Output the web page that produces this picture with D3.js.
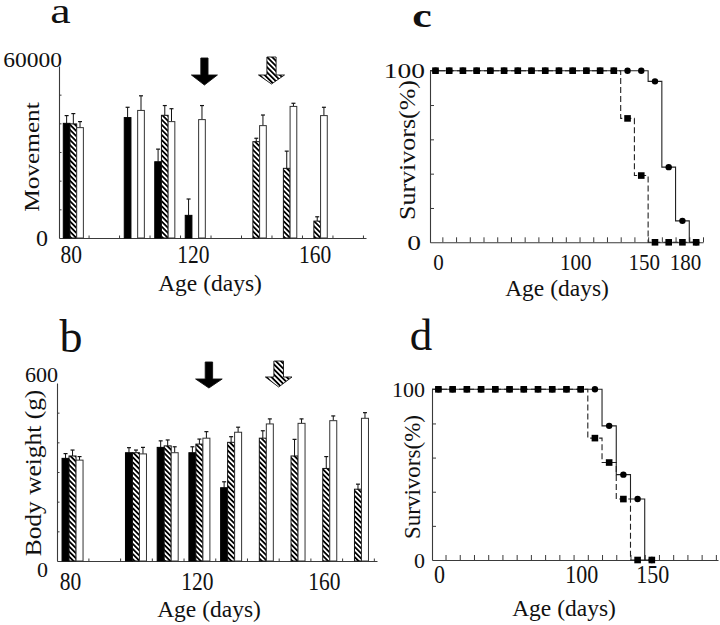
<!DOCTYPE html>
<html><head><meta charset="utf-8">
<script src="https://cdn.jsdelivr.net/npm/d3@7"></script>
<style>
html,body{margin:0;padding:0;background:#fff;}
svg{display:block;font-family:"Liberation Serif","Times New Roman",serif;}
</style>
</head><body>
<svg id="chart" width="720" height="625"></svg>
<script>
// ---------- Panel a: Movement ----------
const moveAges      = [80, 100, 110, 120, 140, 150, 160];
const moveBlack     = [40000, 42000, 26600, 7900, null, null, null];
const moveBlackErr  = [2700, 3600, 4400, 5700, null, null, null];
const moveHatch     = [39800, null, 42800, null, 33600, 24300, 5900];
const moveHatchErr  = [3600, null, 3400, null, 1200, 6000, 1500];
const moveWhite     = [38500, 44500, 40600, 41300, 39200, 45900, 42700];
const moveWhiteErr  = [2100, 5100, 4500, 4900, 3700, 1100, 2900];
const moveYMinor    = [10000, 20000, 30000, 40000, 50000];

// ---------- Panel b: Body weight ----------
const wtAges        = [80, 100, 110, 120, 130, 140, 150, 160, 170];
const wtBlack       = [346, 365, 383, 365, 247, null, null, null, null];
const wtBlackErr    = [16, 17, 22, 20, 20, null, null, null, null];
const wtHatch       = [354, 365, 388, 394, 400, 414, 354, 312, 242];
const wtHatchErr    = [20, 9, 20, 17, 19, 25, 56, 40, 17];
const wtWhite       = [340, 361, 365, 414, 434, 462, 464, 473, 481];
const wtWhiteErr    = [12, 22, 20, 22, 17, 17, 15, 16, 19];
const wtYMinor      = [100, 200, 300, 400, 500];

const ageTickLabels = [80, 120, 160];
const ageMinorTicks = [85, 95, 105, 115, 125, 135, 145, 155, 165, 175];
const arrowAges     = [123, 145];   // black arrow, hatched arrow

// ---------- Panel c: survival ----------
const survCDays   = [0,10,20,30,40,50,60,70,80,90,100,110,120,130,140,150,160,170,180,190];
const survCCircle = [100,100,100,100,100,100,100,100,100,100,100,100,100,100,100,100,93.8,43.8,12.5,0];
const survCSquare = [100,100,100,100,100,100,100,100,100,100,100,100,100,100,72.2,38.9,0,0,0,0];
const survCXLabels = [0, 100, 150, 180];

// ---------- Panel d: survival ----------
const survDDays   = [0,10,20,30,40,50,60,70,80,90,100,110,120,130,140,150];
const survDCircle = [100,100,100,100,100,100,100,100,100,100,100,100,78.6,50,35.7,0];
const survDSquare = [100,100,100,100,100,100,100,100,100,100,100,71.4,57.1,35.7,0,0];
const survDXLabels = [0, 100, 150];

const survYMinor = [20, 40, 60, 80];
const survXMinor = [5,15,25,35,45,55,65,75,85,95,105,115,125,135,145,155,165,175,185,195];

// =================================================
const svg = d3.select('#chart');
svg.append('rect').attr('width',720).attr('height',625).attr('fill','#fff');
const defs = svg.append('defs');
const pat = defs.append('pattern').attr('id','hatch').attr('patternUnits','userSpaceOnUse')
  .attr('width',3.6).attr('height',3.6).attr('patternTransform','rotate(-45)');
pat.append('rect').attr('width',3.6).attr('height',3.6).attr('fill','#fff');
pat.append('rect').attr('width',1.8).attr('height',3.6).attr('fill','#000');

const AX = '#3a3a3a', INK = '#111';

function txt(g, s, x, y, o = {}) {
  const t = g.append('text').text(s)
    .attr('font-size', o.size || 22)
    .attr('text-anchor', o.anchor || 'middle')
    .attr('fill', INK)
    .attr('transform', `translate(${x},${y}) rotate(${o.rot||0}) scale(${o.sx||1},${o.sy||1})`);
  if (o.central) t.attr('dominant-baseline','central');
  if (o.bold) t.attr('font-weight','bold');
  return t;
}

function styleAxis(sel) {
  sel.select('.domain').attr('stroke', AX).attr('stroke-width', 1.1);
  sel.selectAll('.tick line').attr('stroke', AX).attr('stroke-width', 1);
  sel.selectAll('.tick text').remove();
}

function barPanel(cfg) {
  const g = svg.append('g');
  const {x, y, w} = cfg;
  g.append('g').attr('transform', `translate(0,${y.range()[0]})`)
    .call(d3.axisBottom(x).tickValues(ageMinorTicks.filter(t => t < x.domain()[1])).tickSize(-2.5).tickSizeOuter(0).tickFormat(''))
    .call(styleAxis);
  g.append('g').attr('transform', `translate(${x.range()[0]},0)`)
    .call(d3.axisLeft(y).tickValues(cfg.yMinor).tickSize(-2.5).tickSizeOuter(0).tickFormat(''))
    .call(styleAxis);

  const sub = d3.scaleBand().domain([0,1,2]).range([-1.5*w, 1.5*w]);
  cfg.series.forEach((s, si) => {
    const data = cfg.ages.map((a, i) => ({a, v: s.vals[i], e: s.errs[i]})).filter(d => d.v != null);
    const sg = g.append('g');
    sg.selectAll('line.err').data(data.filter(d => d.e)).join('line')
      .attr('x1', d => x(d.a) + sub(si) + w/2).attr('x2', d => x(d.a) + sub(si) + w/2)
      .attr('y1', d => y(d.v)).attr('y2', d => y(d.v + d.e))
      .attr('stroke', INK).attr('stroke-width', 1);
    sg.selectAll('line.cap').data(data.filter(d => d.e)).join('line')
      .attr('x1', d => x(d.a) + sub(si) + w/2 - 2).attr('x2', d => x(d.a) + sub(si) + w/2 + 2)
      .attr('y1', d => y(d.v + d.e)).attr('y2', d => y(d.v + d.e))
      .attr('stroke', INK).attr('stroke-width', 1.2);
    sg.selectAll('rect').data(data).join('rect')
      .attr('x', d => x(d.a) + sub(si)).attr('width', w)
      .attr('y', d => y(d.v)).attr('height', d => y(0) - y(d.v))
      .attr('fill', s.fill).attr('stroke', s.stroke).attr('stroke-width', 1);
  });

  const top = y.range()[1];
  cfg.arrows.forEach((ar, i) => {
    const cx = x(arrowAges[i]);
    const p = `M${cx-ar.sw},${top+ar.t} L${cx+ar.sw},${top+ar.t} L${cx+ar.sw},${top+ar.h} L${cx+ar.hw},${top+ar.h} L${cx},${top+ar.p} L${cx-ar.hw},${top+ar.h} L${cx-ar.sw},${top+ar.h} Z`;
    g.append('path').attr('d', p).attr('fill', ar.fill).attr('stroke', '#111').attr('stroke-width', 0.9);
  });

  ageTickLabels.forEach(v => txt(g, v, x(v) + cfg.xlDx, cfg.xlBase, {size: 21.5, sy: 1.15}));
  cfg.yLabels.forEach(l => txt(g, l.s, l.x, y(l.v) + l.dy, {size: l.size, anchor: 'end', sx: l.sx || 1}));
  txt(g, 'Age (days)', cfg.titleX, cfg.titleY, {size: 23.5});
  txt(g, cfg.yTitle, cfg.yTitleX, cfg.yTitleY, {size: cfg.yTitleSize, rot: -90, sx: cfg.yTitleSx, central: true});
}

const xa = d3.scaleLinear().domain([75.3, 176]).range([59, 366]);
const ya = d3.scaleLinear().domain([0, 60000]).range([238, 66]);
barPanel({
  x: xa, y: ya, w: 6.7, ages: moveAges, yMinor: moveYMinor,
  series: [
    {vals: moveBlack, errs: moveBlackErr, fill: '#000', stroke: '#000'},
    {vals: moveHatch, errs: moveHatchErr, fill: 'url(#hatch)', stroke: '#111'},
    {vals: moveWhite, errs: moveWhiteErr, fill: '#fff', stroke: '#333'}
  ],
  arrows: [
    {sw: 3.6, hw: 13, t: -8, h: 9, p: 19, fill: '#000'},
    {sw: 4.6, hw: 13, t: -9, h: 9, p: 18, fill: 'url(#hatch)'}
  ],
  xlDx: -2, xlBase: 263,
  yLabels: [{s: '60000', v: 60000, x: 62, dy: 1, size: 21, sx: 1.12}, {s: '0', v: 0, x: 48, dy: 8, size: 24}],
  titleX: 210, titleY: 291,
  yTitle: 'Movement', yTitleX: 32, yTitleY: 157, yTitleSize: 22, yTitleSx: 1.15
});

const xb = d3.scaleLinear().domain([75.1, 176]).range([57, 377]);
const yb = d3.scaleLinear().domain([0, 600]).range([561, 383]);
barPanel({
  x: xb, y: yb, w: 7.0, ages: wtAges, yMinor: wtYMinor,
  series: [
    {vals: wtBlack, errs: wtBlackErr, fill: '#000', stroke: '#000'},
    {vals: wtHatch, errs: wtHatchErr, fill: 'url(#hatch)', stroke: '#111'},
    {vals: wtWhite, errs: wtWhiteErr, fill: '#fff', stroke: '#333'}
  ],
  arrows: [
    {sw: 3.7, hw: 13.3, t: -21, h: -4, p: 5, fill: '#000'},
    {sw: 4.8, hw: 13.3, t: -22, h: -6, p: 4, fill: 'url(#hatch)'}
  ],
  xlDx: -2, xlBase: 590,
  yLabels: [{s: '600', v: 600, x: 58, dy: -1, size: 21, sx: 1.05}, {s: '0', v: 0, x: 48, dy: 16, size: 22}],
  titleX: 209, titleY: 617,
  yTitle: 'Body weight (g)', yTitleX: 34, yTitleY: 473, yTitleSize: 22.5, yTitleSx: 1.13
});

function survPanel(cfg) {
  const g = svg.append('g');
  const {x, y} = cfg;
  g.append('g').attr('transform', `translate(0,${y(0)})`)
    .call(d3.axisBottom(x).tickValues(survXMinor.filter(t => t <= x.domain()[1])).tickSize(-5).tickSizeOuter(0).tickFormat(''))
    .call(styleAxis);
  g.append('g').attr('transform', `translate(${x.range()[0]},0)`)
    .call(d3.axisLeft(y).tickValues(survYMinor).tickSize(-4).tickSizeOuter(0).tickFormat(''))
    .call(styleAxis);

  const circ = cfg.days.map((d, i) => ({d, v: cfg.circle[i]}));
  const sq = cfg.days.map((d, i) => ({d, v: cfg.square[i]}));
  // curves start at the y axis
  const line = d3.line().x((p, i) => i === 0 ? x.range()[0] : x(p.d)).y(p => y(p.v)).curve(d3.curveStep);
  g.append('path').attr('d', line(sq)).attr('fill','none').attr('stroke','#222')
    .attr('stroke-width',1.1).attr('stroke-dasharray','6,3');
  g.append('path').attr('d', line(circ)).attr('fill','none').attr('stroke','#222').attr('stroke-width',1.1);
  g.selectAll('circle').data(circ).join('circle')
    .attr('cx', p => x(p.d)).attr('cy', p => y(p.v)).attr('r', 3.2).attr('fill','#000');
  g.selectAll('rect.sq').data(sq).join('rect').attr('class','sq')
    .attr('x', p => x(p.d) - 3.3).attr('y', p => y(p.v) - 3.3).attr('width', 6.6).attr('height', 6.6).attr('fill','#000');

  cfg.xLabels.forEach(v => txt(g, v, x(v) + cfg.xlDx, cfg.xlBase, {size: cfg.xlSize, sy: cfg.xlSy}));
  txt(g, '100', cfg.yl100X, y(100), {size: 22, anchor: 'end', sx: cfg.ylSx, central: true});
  txt(g, '0', cfg.yl0X, y(0), {size: 22, anchor: 'end', sx: cfg.ylSx, central: true});
  txt(g, 'Age (days)', cfg.titleX, cfg.titleY, {size: 23.5});
  txt(g, 'Survivors(%)', cfg.yTitleX, cfg.yTitleY, {size: 23, rot: -90, sx: cfg.yTitleSx, central: true});
}

const xc = d3.scaleLinear().domain([-4, 195]).range([430, 703]);
const yc = d3.scaleLinear().domain([0, 100]).range([242.3, 70.7]);
survPanel({x: xc, y: yc, days: survCDays, circle: survCCircle, square: survCSquare,
  xLabels: survCXLabels, xlDx: 3, xlBase: 270, xlSize: 21, xlSy: 1.05,
  yl100X: 425, yl0X: 421, ylSx: 1.25,
  titleX: 557, titleY: 296, yTitleX: 407, yTitleY: 150, yTitleSx: 1.13});

const xd = d3.scaleLinear().domain([-4.5, 196.5]).range([432, 718]);
const yd = d3.scaleLinear().domain([0, 100]).range([560, 389.3]);
survPanel({x: xd, y: yd, days: survDDays, circle: survDCircle, square: survDSquare,
  xLabels: survDXLabels, xlDx: 1, xlBase: 583, xlSize: 22, xlSy: 1.1,
  yl100X: 425, yl0X: 425, ylSx: 1.0,
  titleX: 564, titleY: 616, yTitleX: 412, yTitleY: 477, yTitleSx: 1.0});

txt(svg, 'a', 60.5, 23, {size: 46, sy: 0.78});
txt(svg, 'b', 71, 352, {size: 46});
txt(svg, 'c', 422, 27, {size: 44, sy: 0.78, bold: true});
txt(svg, 'd', 421, 350, {size: 45});
</script>
</body></html>
